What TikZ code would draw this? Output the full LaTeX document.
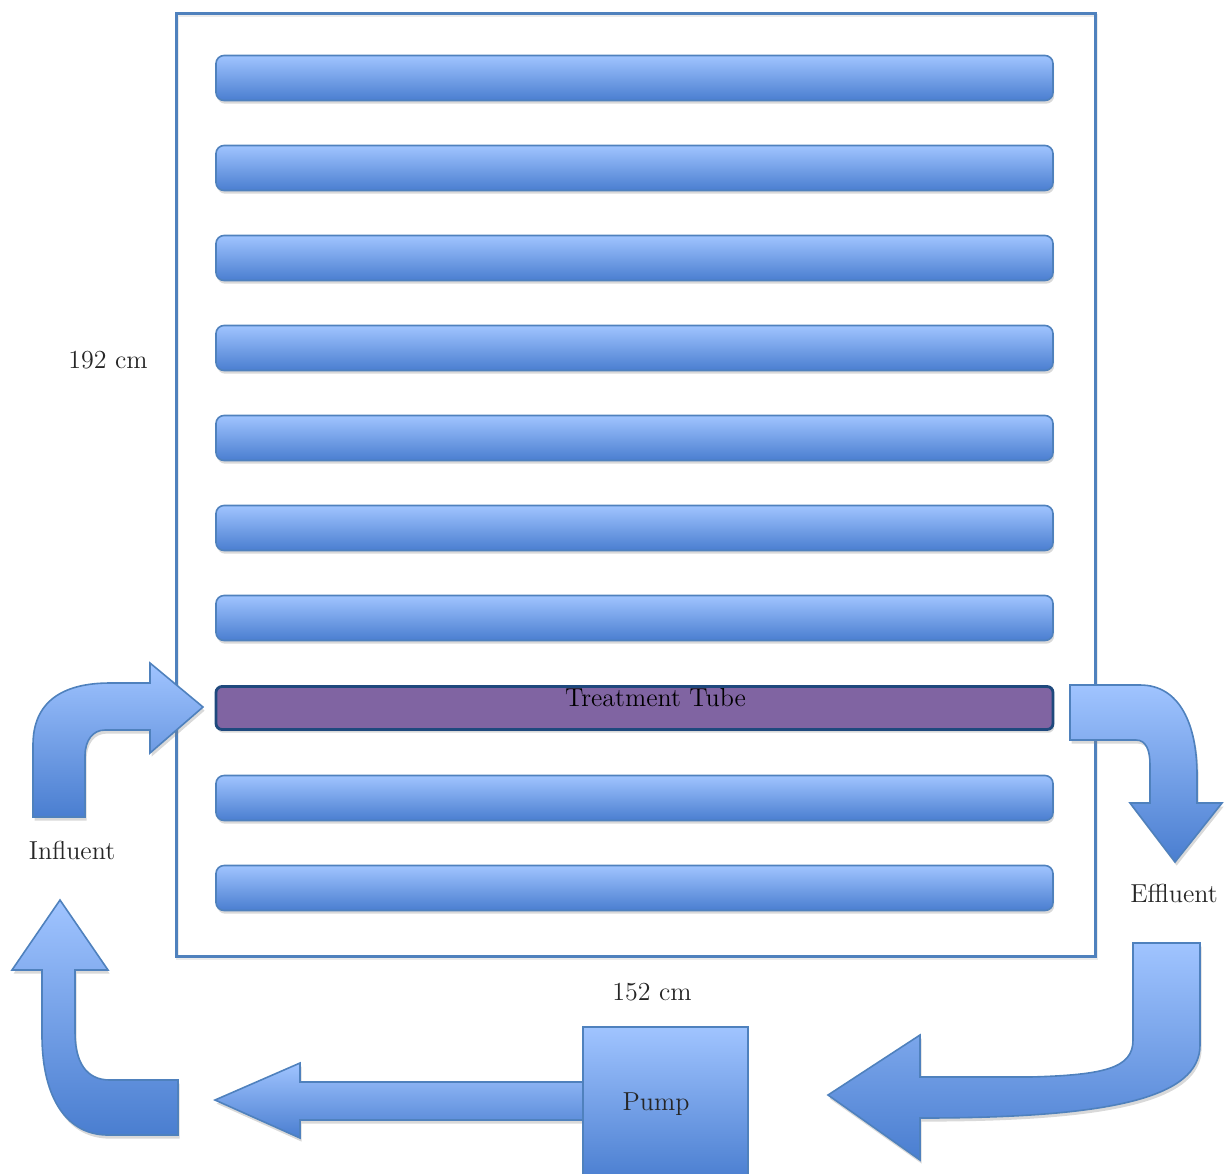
\documentclass[tikz,border=0pt]{standalone}
\usepackage{tikz}
\usetikzlibrary{positioning, shadows}
\definecolor{tubetop}{HTML}{A0C4FF}
\definecolor{tubebot}{HTML}{4A7ED0}
\definecolor{tubeline}{HTML}{4F81BD}
\definecolor{treatfill}{HTML}{8064A2}
\definecolor{treatline}{HTML}{1F497D}
\definecolor{txtcol}{HTML}{262626}
\tikzset{
  tubeblk/.style = {rectangle, rounded corners=4pt, draw=tubeline, line width=0.8pt,
                    top color=tubetop, bottom color=tubebot,
                    minimum width=418.5pt, minimum height=22.5pt, inner sep=0pt,
                    drop shadow={opacity=0.3, shadow xshift=0.6pt, shadow yshift=-1.6pt}},
  treatblk/.style= {rectangle, rounded corners=3pt, draw=treatline, line width=1.4pt,
                    fill=treatfill, minimum width=418.5pt, minimum height=21.5pt, inner sep=0pt,
                    drop shadow={opacity=0.3, shadow xshift=0.6pt, shadow yshift=-1.6pt}},
  tankblk/.style = {rectangle, draw=tubeline, line width=1.5pt, inner sep=0pt,
                    minimum width=459.5pt, minimum height=471.5pt,
                    drop shadow={opacity=0.2, shadow xshift=0.8pt, shadow yshift=-1.2pt, fill=none, draw=black!40}},
  pumpblk/.style = {rectangle, draw=tubeline, line width=0.8pt,
                    top color=tubetop, bottom color=tubebot,
                    minimum width=82.5pt, minimum height=77pt, inner sep=0pt},
  bigarrow/.style= {draw=tubeline, line width=0.8pt, line join=miter,
                    top color=tubetop, bottom color=tubebot,
                    drop shadow={opacity=0.3, shadow xshift=0.8pt, shadow yshift=-1.8pt}},
  lbl/.style     = {font=\fontsize{13}{15}\selectfont, text=txtcol, inner sep=0pt},
}

\begin{document}
\begin{tikzpicture}[x=0.5pt, y=-0.5pt]
\useasboundingbox (0,0) rectangle (1224,1173);

% tank with the tubes
\node[tankblk] (tank) at (635.5,484.5) {};
\node[tubeblk] (tube1) at (634.5,78) {};
\node[tubeblk] (tube2) at (634.5,168) {};
\node[tubeblk] (tube3) at (634.5,258) {};
\node[tubeblk] (tube4) at (634.5,348) {};
\node[tubeblk] (tube5) at (634.5,438) {};
\node[tubeblk] (tube6) at (634.5,528) {};
\node[tubeblk] (tube7) at (634.5,618) {};
\node[treatblk] (treat) at (634.5,708) {};
\node[tubeblk] (tube9) at (634.5,798) {};
\node[tubeblk] (tube10) at (634.5,888) {};
\node[lbl, text=black, below=1.5pt of treat.north, xshift=10.5pt] (treatlbl) {Treatment Tube};

% dimensions
\node[lbl] (height) at (108,360) {192 cm};
\node[lbl] (width) at (652,992) {152 cm};

% flow arrows
\path[bigarrow] (33,817) -- (33,745) .. controls (33,702) and (62,683) .. (110,683)
  -- (150,683) -- (150,663) -- (203,707) -- (150,753) -- (150,730) -- (105,730)
  .. controls (93,730) and (85,740) .. (85,756) -- (85,817) -- cycle;
\path[bigarrow] (1070,685) -- (1140,685) .. controls (1180,685) and (1197,725) .. (1197,775)
  -- (1197,803) -- (1222,803) -- (1175,862) -- (1130,803) -- (1150,803) -- (1150,765)
  .. controls (1150,750) and (1146,740) .. (1136,740) -- (1070,740) -- cycle;
\path[bigarrow] (1133,943) -- (1200,943) -- (1200,1045) .. controls (1200,1098) and (1110,1118) .. (920,1118)
  -- (920,1160) -- (828,1095) -- (920,1035) -- (920,1077) -- (1030,1077)
  .. controls (1105,1075) and (1133,1068) .. (1133,1040) -- cycle;
\path[bigarrow] (590,1082) -- (300,1082) -- (300,1063) -- (215,1100) -- (300,1138)
  -- (300,1120) -- (590,1120) -- cycle;
\path[bigarrow] (178,1080) -- (110,1080) .. controls (86,1080) and (75,1062) .. (75,1032)
  -- (75,970) -- (108,970) -- (60,900) -- (12,970) -- (42,970) -- (42,1035)
  .. controls (42,1100) and (68,1135) .. (108,1135) -- (178,1135) -- cycle;

% pump
\node[pumpblk] (pump) at (665.5,1104) {};
\node[lbl] (pumplbl) at (656,1104) {Pump};

\node[lbl] (influent) at (72,850) {Influent};
\node[lbl] (effluent) at (1174,893) {Effluent};
\end{tikzpicture}
\end{document}
